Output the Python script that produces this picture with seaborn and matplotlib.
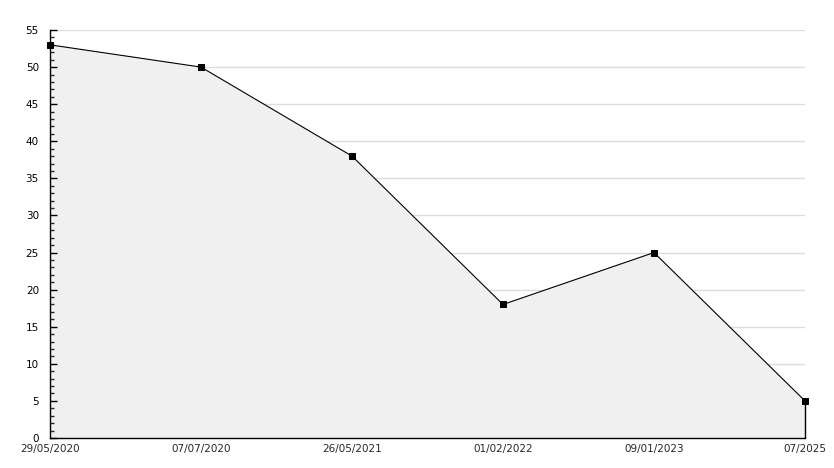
import pandas as pd
import numpy as np
import matplotlib
matplotlib.use('Agg')
import matplotlib.pyplot as plt
import seaborn as sns
from matplotlib.ticker import MultipleLocator

# DATA
dates = ['29/05/2020', '07/07/2020', '26/05/2021', '01/02/2022', '09/01/2023', '07/2025']
values = [53, 50, 38, 18, 25, 5]
yticks = list(range(0, 56, 5))

df = pd.DataFrame({'pos': np.arange(len(dates)), 'value': values})

sns.set_style('white')
plt.rcParams['font.family'] = ['DejaVu Sans']

fig = plt.figure(figsize=(8.34, 4.68), dpi=100)
ax = fig.add_axes([50 / 834, 1 - 438 / 468, 755 / 834, 408 / 468])
ax.set_axisbelow(False)

# grid drawn under the fill, ticks stay above it
for y in yticks[1:]:
    ax.axhline(y, color='#dddddd', linewidth=1, zorder=0.5)
ax.fill_between(df.pos, df.value, 0, facecolor='#f0f0f0', edgecolor='none', zorder=1)
# right edge of the filled area
ax.vlines(df.pos.iloc[-1], 0, df.value.iloc[-1], color='black', linewidth=1,
          zorder=2, clip_on=False)
sns.lineplot(data=df, x='pos', y='value', ax=ax, color='black', linewidth=0.8,
             marker='s', markersize=4.5, markeredgecolor='black', zorder=3,
             clip_on=False)

ax.set_xlim(0, len(dates) - 1)
ax.set_ylim(0, 55)
ax.set_xticks(df.pos)
ax.set_xticklabels(dates, fontsize=7.5)
ax.set_yticks(yticks)
ax.yaxis.set_minor_locator(MultipleLocator(1))
ax.tick_params(axis='y', which='major', direction='in', length=5, width=1,
               labelsize=7.5, pad=8, colors='black', left=True)
ax.tick_params(axis='y', which='minor', direction='in', length=3, width=1, left=True)
ax.tick_params(axis='x', length=0, labelsize=7.5, pad=4)
ax.set_xlabel('')
ax.set_ylabel('')
ax.grid(False)

for s in ['top', 'right']:
    ax.spines[s].set_visible(False)
for s in ['left', 'bottom']:
    ax.spines[s].set_color('black')
    ax.spines[s].set_linewidth(1)

fig.savefig('out.png', dpi=100)
